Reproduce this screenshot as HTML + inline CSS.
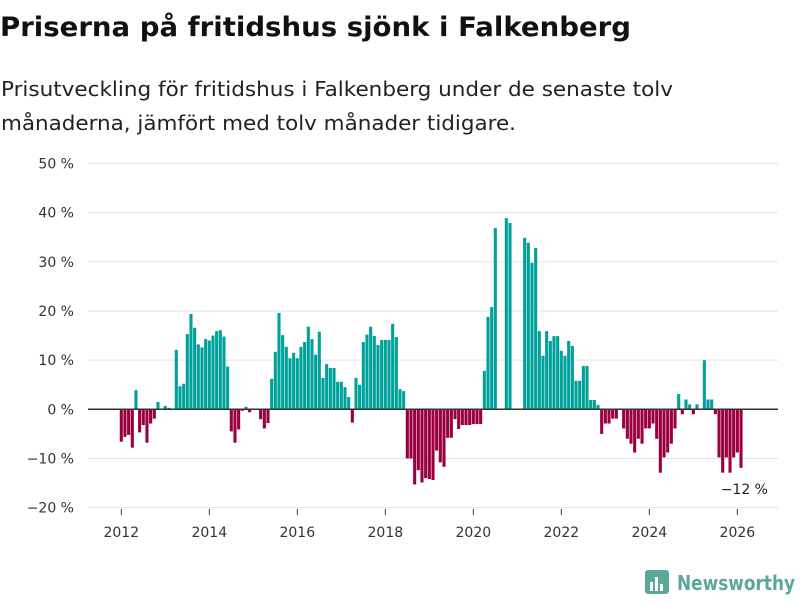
<!DOCTYPE html>
<html><head><meta charset="utf-8"><style>
body{margin:0;width:800px;height:600px;background:#fff;font-family:"DejaVu Sans","Liberation Sans",sans-serif;overflow:hidden}
</style></head><body>
<svg width="800" height="600" xmlns="http://www.w3.org/2000/svg" font-family="DejaVu Sans, Liberation Sans, sans-serif">
<text x="0" y="36" font-size="27" font-weight="bold" fill="#111" textLength="631" lengthAdjust="spacingAndGlyphs">Priserna på fritidshus sjönk i Falkenberg</text>
<text x="1" y="96" font-size="20" fill="#222" textLength="672" lengthAdjust="spacingAndGlyphs">Prisutveckling för fritidshus i Falkenberg under de senaste tolv</text>
<text x="1" y="130" font-size="20" fill="#222" textLength="515" lengthAdjust="spacingAndGlyphs">månaderna, jämfört med tolv månader tidigare.</text>
<g id="grid"></g><g id="bars"></g><g id="xaxis"></g>
<text x="768" y="494" font-size="14" fill="#222" text-anchor="end">−12 %</text>
<g>
<rect x="645" y="570" width="24" height="24" rx="3" fill="#5aa89a"/>
<rect x="650" y="582" width="3" height="9" fill="#fff"/><rect x="655" y="577" width="3" height="14" fill="#fff"/><rect x="660" y="584" width="3" height="7" fill="#fff"/>
<text x="677" y="590" font-size="20" font-weight="bold" fill="#5aa89a" textLength="118" lengthAdjust="spacingAndGlyphs">Newsworthy</text>
</g>
</svg>
<script>
const yTicks=[50,40,30,20,10,0,-10,-20];
const yTickLabels=["50 %","40 %","30 %","20 %","10 %","0 %","−10 %","−20 %"];
const xTickYears=[2012,2014,2016,2018,2020,2022,2024,2026];
const startYear=2012;
const values=[
-6.6,-5.6,-5.2,-7.8,3.9,-4.7,-3.2,-6.8,-2.9,-1.9,1.5,0,
0.7,0.3,0,12.1,4.7,5.2,15.3,19.4,16.6,13.2,12.6,14.3,
14.0,15.0,15.9,16.1,14.8,8.7,-4.5,-6.8,-4.1,-0.3,0.5,-0.6,
0,0,-2.0,-3.9,-2.8,6.2,11.7,19.6,15.1,12.7,10.4,11.5,
10.4,12.7,13.7,16.8,14.3,11.1,15.8,6.4,9.2,8.4,8.4,5.6,
5.6,4.5,2.5,-2.7,6.4,5.0,13.7,15.2,16.8,14.9,13.1,14.1,
14.1,14.1,17.4,14.7,4.1,3.7,-10,-10,-15.3,-12.4,-14.9,-14.0,
-14.2,-14.4,-8.4,-10.8,-11.7,-5.8,-5.8,-2.0,-4.0,-3.2,-3.2,-3.2,
-3,-3,-3,7.8,18.8,20.8,36.9,null,null,38.9,37.9,null,
null,null,34.9,33.9,29.8,32.8,15.9,10.9,15.9,13.9,14.9,14.9,
11.9,10.9,13.9,12.9,5.8,5.8,8.8,8.8,1.9,1.9,0.9,-5.0,
-2.9,-2.9,-1.9,-1.9,0,-3.9,-6.0,-7.0,-8.8,-6.0,-7.0,-3.9,
-3.9,-2.9,-6.0,-12.9,-9.8,-8.8,-7.0,-3.9,3.1,-1.0,2.0,1.0,
-1.0,1.0,0,10.0,2.0,2.0,-1.0,-9.8,-12.9,-9.8,-12.9,-9.8,
-8.8,-11.9];
const NS="http://www.w3.org/2000/svg";
const y=v=>409.3-v*4.914;
const xc=m=>121.3+m*3.667;
function mk(t,a,p){const e=document.createElementNS(NS,t);for(const k in a)e.setAttribute(k,a[k]);p.appendChild(e);return e;}
const g=document.getElementById('grid');
yTicks.forEach((t,i)=>{
 if(t!==0){const l=mk('line',{x1:88,x2:778,y1:y(t),y2:y(t),stroke:'#e2e2e2','stroke-width':1},g);
 
 }
 const tx=mk('text',{x:74,y:y(t)+5,'font-size':14,fill:'#333','text-anchor':'end'},g);
 tx.textContent=yTickLabels[i];
 
 
});
const b=document.getElementById('bars');
values.forEach((v,m)=>{
 if(v===null||v===0)return;
 const r=mk('rect',{x:xc(m)-1.55,width:3.1,y:Math.min(y(v),y(0)),height:Math.abs(y(v)-y(0)),fill:v>0?'#00a19a':'#9a0040'},b);
 
 
});
const xa=document.getElementById('xaxis');
const zl=mk('line',{x1:88,x2:778,y1:y(0),y2:y(0),stroke:'#333','stroke-width':1.5},xa);


xTickYears.forEach(yr=>{
 const m=(yr-startYear)*12;
 const tk=mk('line',{x1:xc(m),x2:xc(m),y1:509,y2:515,stroke:'#333','stroke-width':1},xa);
 
 
 const t=mk('text',{x:xc(m),y:537,'font-size':14,fill:'#333','text-anchor':'middle'},xa);
 t.textContent=yr;
 
 
});
</script>
</body></html>
